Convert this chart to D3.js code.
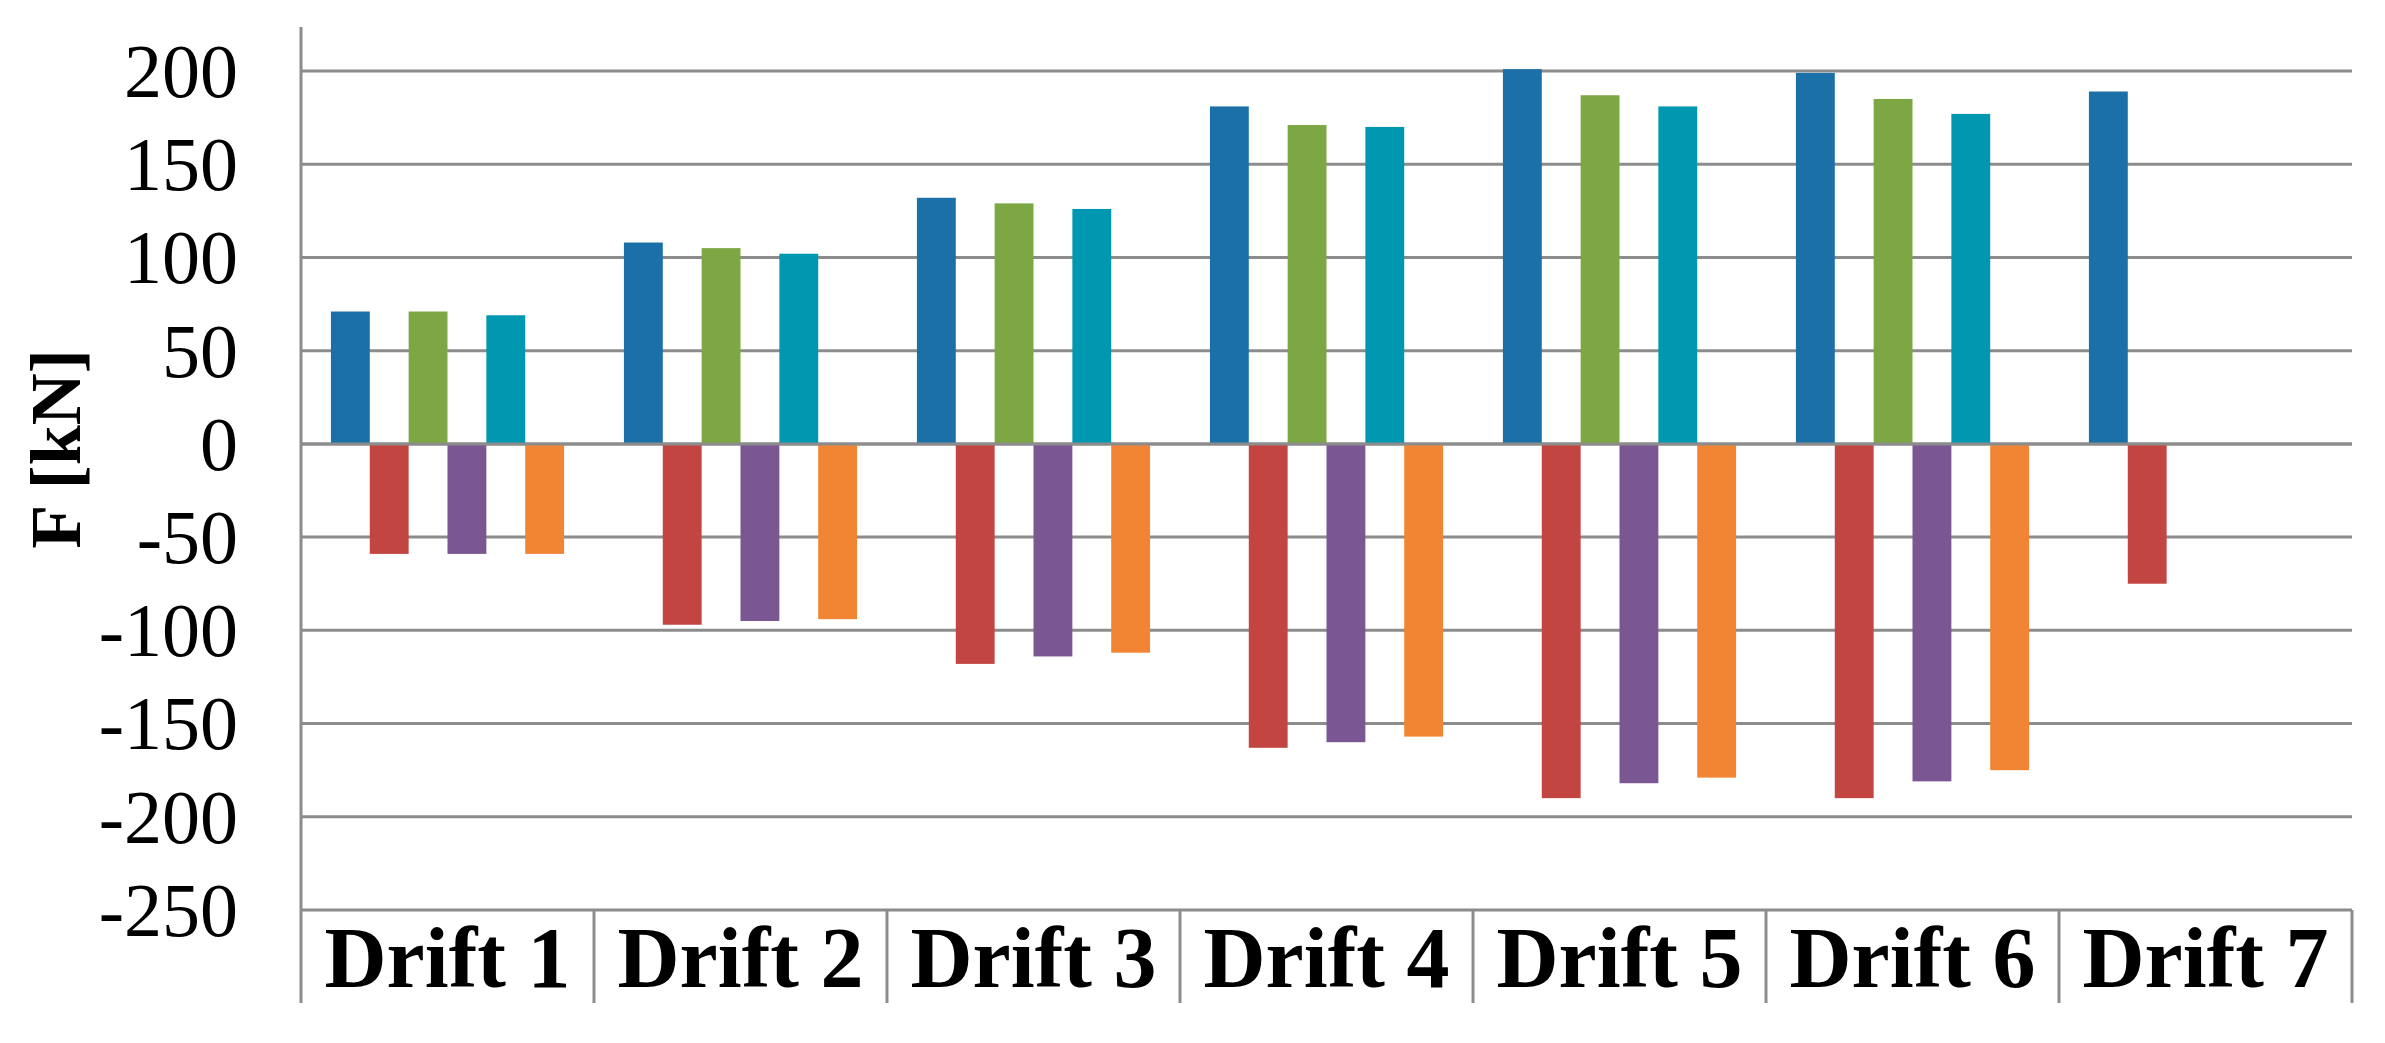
<!DOCTYPE html>
<html>
<head>
<meta charset="utf-8">
<script src="https://cdn.jsdelivr.net/npm/d3@7"></script>
<style>
  html, body { margin: 0; padding: 0; background: #ffffff; }
  svg { display: block; }
</style>
</head>
<body>
<svg id="chart" width="2385" height="1043"></svg>
<script>
// ---- Data ----
const categories = ["Drift 1", "Drift 2", "Drift 3", "Drift 4", "Drift 5", "Drift 6", "Drift 7"];
const seriesNames = ["S1", "S2", "S3", "S4", "S5", "S6"];
const s1 = [71, 108, 132, 181, 201, 199, 189];        // blue
const s2 = [-59, -97, -118, -163, -190, -190, -75];   // red
const s3 = [71, 105, 129, 171, 187, 185, null];      // green
const s4 = [-59, -95, -114, -160, -182, -181, null]; // purple
const s5 = [69, 102, 126, 170, 181, 177, null];      // teal
const s6 = [-59, -94, -112, -157, -179, -175, null]; // orange
const yTicks = [200, 150, 100, 50, 0, -50, -100, -150, -200, -250];
const yTitle = "F [kN]";

const seriesValues = [s1, s2, s3, s4, s5, s6];
const colors = ["#1c70a8", "#c34541", "#7da743", "#7a5693", "#0098b0", "#f28534"];

// ---- Layout ----
const svg = d3.select("#chart");
const plotLeft = 301, plotRight = 2352;
const axisTop = 27, labelBottom = 1003;

const x = d3.scaleBand().domain(categories).range([plotLeft, plotRight]).padding(0);
const xs = d3.scaleBand().domain(seriesNames).range([0, x.bandwidth()])
  .paddingInner(0).paddingOuter(0.77);
const y = d3.scaleLinear().domain([-250, 200]).range([910, 71]);

// gridlines
svg.append("g")
  .selectAll("line")
  .data(yTicks)
  .join("line")
  .attr("x1", plotLeft).attr("x2", plotRight)
  .attr("y1", d => y(d)).attr("y2", d => y(d))
  .attr("stroke", "#8c8c8c").attr("stroke-width", 3);

// bars
const flat = [];
seriesValues.forEach((vals, si) => {
  vals.forEach((v, ci) => {
    if (v !== null && v !== undefined) flat.push({ cat: categories[ci], s: seriesNames[si], si, v });
  });
});
svg.append("g")
  .selectAll("rect")
  .data(flat)
  .join("rect")
  .attr("x", d => x(d.cat) + xs(d.s))
  .attr("width", xs.bandwidth())
  .attr("y", d => Math.min(y(d.v), y(0)))
  .attr("height", d => Math.abs(y(d.v) - y(0)))
  .attr("fill", d => colors[d.si]);

// zero line drawn over bars
svg.append("line")
  .attr("x1", plotLeft).attr("x2", plotRight)
  .attr("y1", y(0)).attr("y2", y(0))
  .attr("stroke", "#8c8c8c").attr("stroke-width", 3);

// y axis line
svg.append("line")
  .attr("x1", plotLeft).attr("x2", plotLeft)
  .attr("y1", axisTop).attr("y2", labelBottom)
  .attr("stroke", "#8c8c8c").attr("stroke-width", 3);

// category separators (label area)
const seps = categories.map(c => x(c) + x.bandwidth());
svg.append("g")
  .selectAll("line")
  .data(seps)
  .join("line")
  .attr("x1", d => d).attr("x2", d => d)
  .attr("y1", y(-250)).attr("y2", labelBottom)
  .attr("stroke", "#8c8c8c").attr("stroke-width", 3);

// y tick labels
svg.append("g")
  .selectAll("text")
  .data(yTicks)
  .join("text")
  .attr("x", 238)
  .attr("y", d => y(d))
  .attr("dy", "0.34em")
  .attr("text-anchor", "end")
  .attr("font-family", "'Liberation Serif', 'Times New Roman', serif")
  .attr("font-size", 76)
  .attr("fill", "#000")
  .text(d => (d < 0 ? "-" + Math.abs(d) : String(d)));

// category labels
svg.append("g")
  .selectAll("text")
  .data(categories)
  .join("text")
  .attr("x", d => x(d) + x.bandwidth() / 2)
  .attr("y", 987)
  .attr("text-anchor", "middle")
  .attr("font-family", "'Liberation Serif', 'Times New Roman', serif")
  .attr("font-weight", "bold")
  .attr("font-size", 86)
  .attr("fill", "#000")
  .text(d => d);

// y axis title
svg.append("text")
  .attr("transform", "translate(80,449) rotate(-90)")
  .attr("text-anchor", "middle")
  .attr("font-family", "'Liberation Serif', 'Times New Roman', serif")
  .attr("font-weight", "bold")
  .attr("font-size", 72)
  .attr("fill", "#000")
  .text(yTitle);
</script>
</body>
</html>
